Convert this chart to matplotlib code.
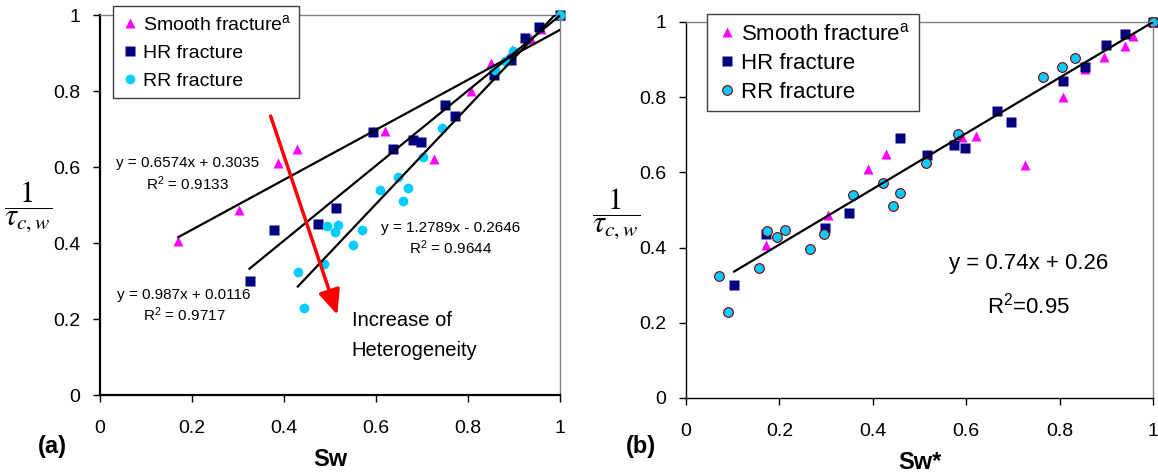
import matplotlib.pyplot as plt
from matplotlib import font_manager

# 1/tau_c,w shared by both panels, one list per fracture type
inv_tau_smooth = [0.406, 0.487, 0.610, 0.648, 0.694, 0.696, 0.620, 0.800, 0.875, 0.908, 0.937, 0.962, 1.0]
inv_tau_hr = [0.300, 0.435, 0.451, 0.493, 0.692, 0.647, 0.672, 0.666, 0.763, 0.735, 0.842, 0.881, 0.940, 0.969, 1.0]
inv_tau_rr = [0.325, 0.229, 0.346, 0.445, 0.428, 0.448, 0.396, 0.435, 0.540, 0.573, 0.511, 0.545, 0.626, 0.703,
              0.855, 0.880, 0.904, 1.0]

# water saturation Sw (panel a)
sw_smooth = [0.170, 0.303, 0.388, 0.428, 0.594, 0.620, 0.725, 0.806, 0.851, 0.896, 0.938, 0.958, 1.0]
sw_hr = [0.325, 0.378, 0.474, 0.512, 0.594, 0.638, 0.681, 0.698, 0.749, 0.772, 0.857, 0.893, 0.924, 0.955, 1.0]
sw_rr = [0.430, 0.443, 0.486, 0.493, 0.511, 0.517, 0.551, 0.570, 0.609, 0.647, 0.659, 0.670, 0.703, 0.743,
         0.859, 0.880, 0.898, 1.0]

# normalised saturation Sw* (panel b)
swn_smooth = [0.171, 0.305, 0.389, 0.429, 0.592, 0.621, 0.726, 0.808, 0.854, 0.895, 0.940, 0.957, 1.0]
swn_hr = [0.103, 0.171, 0.298, 0.349, 0.459, 0.517, 0.573, 0.597, 0.665, 0.695, 0.807, 0.854, 0.900, 0.940, 1.0]
swn_rr = [0.071, 0.089, 0.156, 0.173, 0.195, 0.213, 0.266, 0.296, 0.358, 0.422, 0.444, 0.459, 0.514, 0.583,
          0.765, 0.805, 0.833, 1.0]

# linear trendlines: slope, intercept, R2, x range
fit_a = {
    'smooth': (0.6574, 0.3035, 0.9133, 0.170, 1.0),
    'hr': (0.987, 0.0116, 0.9717, 0.325, 1.0),
    'rr': (1.2789, -0.2646, 0.9644, 0.430, 1.0),
}
fit_b = (0.74, 0.26, 0.95, 0.103, 1.0)

ticks = [0, 0.2, 0.4, 0.6, 0.8, 1.0]
tick_labels = ['0', '0.2', '0.4', '0.6', '0.8', '1']
series_names = ['Smooth fracture$^{\\mathrm{a}}$', 'HR fracture', 'RR fracture']

MAGENTA = '#ff00ff'
NAVY = '#000080'
SKY = '#00ccff'

installed = {f.name for f in font_manager.fontManager.ttflist}
if 'Liberation Sans Narrow' in installed:
    eq_font, eq_size = 'Liberation Sans Narrow', 13
else:
    eq_font, eq_size = 'Liberation Sans', 11

plt.rcParams['font.family'] = ['Liberation Sans', 'DejaVu Sans']
plt.rcParams['mathtext.fontset'] = 'custom'
plt.rcParams['mathtext.rm'] = 'Liberation Sans'
plt.rcParams['mathtext.it'] = 'Liberation Sans:italic'
plt.rcParams['mathtext.bf'] = 'Liberation Sans:bold'

W, H = 1158, 474
fig = plt.figure(figsize=(W / 100, H / 100), dpi=100)
ax1 = fig.add_axes([100 / W, 79 / H, 460 / W, 380 / H])
ax2 = fig.add_axes([686 / W, 76 / H, 467 / W, 376 / H])


def style_axes(ax, spine_lw):
    ax.set_xlim(0, 1)
    ax.set_ylim(0, 1)
    ax.set_xticks(ticks)
    ax.set_xticklabels(tick_labels)
    ax.set_yticks(ticks)
    ax.set_yticklabels(tick_labels)
    for side in ['top', 'right']:
        ax.spines[side].set_color('#7f7f7f')
        ax.spines[side].set_linewidth(1.0)
    for side in ['left', 'bottom']:
        ax.spines[side].set_color('black')
        ax.spines[side].set_linewidth(spine_lw)
    ax.tick_params(direction='out', length=5, width=1, labelsize=14, top=False, right=False)
    ax.tick_params(axis='x', pad=13)
    ax.tick_params(axis='y', pad=9)


def draw_points(ax, xs, rr_edge):
    ax.plot(xs[0], inv_tau_smooth, '^', ms=7, color=MAGENTA, mec='none', ls='none',
            label=series_names[0], clip_on=False, zorder=2)
    ax.plot(xs[1], inv_tau_hr, 's', ms=6.5, color=NAVY, mec='none', ls='none',
            label=series_names[1], clip_on=False, zorder=2)
    if rr_edge:
        ax.plot(xs[2], inv_tau_rr, 'o', ms=7, mfc=SKY, mec='#800000', mew=0.8, ls='none',
                label=series_names[2], clip_on=False, zorder=2)
    else:
        ax.plot(xs[2], inv_tau_rr, 'o', ms=7, color=SKY, mec='none', ls='none',
                label=series_names[2], clip_on=False, zorder=2)


def add_legend(ax, anchor, size, spacing):
    leg = ax.legend(loc='upper left', bbox_to_anchor=anchor, borderaxespad=0, fontsize=size,
                    fancybox=False, edgecolor='#404040', framealpha=1, handlelength=1.0,
                    handletextpad=0.15, borderpad=0.4, labelspacing=spacing)
    leg.get_frame().set_linewidth(1.0)


# (a) against Sw
style_axes(ax1, 1.6)
draw_points(ax1, [sw_smooth, sw_hr, sw_rr], rr_edge=False)
for slope, icpt, r2, x0, x1 in fit_a.values():
    ax1.plot([x0, x1], [slope * x0 + icpt, slope * x1 + icpt], color='black', lw=1.6, zorder=3)

eq_pos = {'smooth': (0.191, 0.58), 'hr': (0.183, 0.234), 'rr': (0.763, 0.411)}
for key, (slope, icpt, r2, x0, x1) in fit_a.items():
    sign = '+' if icpt >= 0 else '-'
    label = f'y = {slope:g}x {sign} {abs(icpt):.4f}\nR$^2$ = {r2:.4f}'
    ax1.text(*eq_pos[key], label, ha='center', va='center', multialignment='center',
             fontsize=eq_size, family=eq_font, linespacing=1.25)

ax1.annotate('', xy=(0.516, 0.211), xytext=(0.371, 0.734),
             arrowprops=dict(arrowstyle='-|>,head_length=0.5,head_width=0.22', color='red',
                             lw=2.5, mutation_scale=30, shrinkA=0, shrinkB=0), zorder=4)
ax1.text(0.547, 0.197, 'Increase of', fontsize=14.5, va='center', ha='left')
ax1.text(0.547, 0.118, 'Heterogeneity', fontsize=14.5, va='center', ha='left')
add_legend(ax1, (0.028, 1.024), 14, 0.55)
ax1.set_xlabel('Sw', fontsize=17, fontweight='bold', labelpad=8)

# (b) against Sw*
style_axes(ax2, 1.0)
draw_points(ax2, [swn_smooth, swn_hr, swn_rr], rr_edge=True)
slope, icpt, r2, x0, x1 = fit_b
ax2.plot([x0, x1], [slope * x0 + icpt, slope * x1 + icpt], color='black', lw=1.6, zorder=3)
ax2.text(0.733, 0.358, f'y = {slope:g}x + {icpt:g}', ha='center', va='center', fontsize=16)
ax2.text(0.733, 0.245, f'R$^2$={r2:g}', ha='center', va='center', fontsize=16)
add_legend(ax2, (0.045, 1.021), 16, 0.35)
ax2.set_xlabel('Sw*', fontsize=17, fontweight='bold', labelpad=8)

# fraction-style y labels and panel letters
ylab = r'$\dfrac{1}{\tau_{c,w}}$'
fig.text(28 / W, 1 - 207 / H, ylab, fontsize=22, ha='center', va='center', math_fontfamily='stix')
fig.text(616 / W, 1 - 214 / H, ylab, fontsize=22, ha='center', va='center', math_fontfamily='stix')
fig.text(52 / W, 1 - 447 / H, '(a)', fontsize=17, fontweight='bold', ha='center', va='center')
fig.text(641 / W, 1 - 447 / H, '(b)', fontsize=17, fontweight='bold', ha='center', va='center')

fig.savefig('out.png', dpi=100)
